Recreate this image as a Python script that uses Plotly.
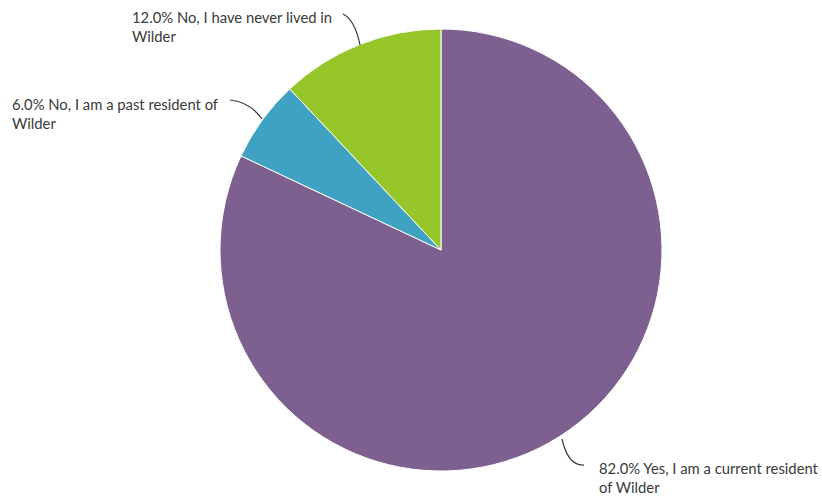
import plotly.graph_objects as go

labels = ["Yes, I am a current resident of Wilder",
          "No, I am a past resident of Wilder",
          "No, I have never lived in Wilder"]
values = [82.0, 6.0, 12.0]
colors = ["#7D608F", "#40A2C3", "#96C62A"]
label_lines = [["Yes, I am a current resident", "of Wilder"],
               ["No, I am a past resident of", "Wilder"],
               ["No, I have never lived in", "Wilder"]]

W, H = 822, 497
cx, cy, r = 441, 250, 221

def px(x):
    return x / W

def py(y):
    return 1 - y / H

fig = go.Figure(go.Pie(
    labels=labels, values=values, sort=False, direction="clockwise", rotation=0,
    marker=dict(colors=colors, line=dict(color="white", width=1)),
    textinfo="none", showlegend=False,
    domain=dict(x=[px(cx - r), px(cx + r)], y=[py(cy + r), py(cy - r)]),
))

# label placement (pixel positions of text start) and leader curves
label_pos = [(597, 477), (10, 113), (130, 26)]
leaders = [
    ((562, 439), (568, 466), (584, 465)),
    ((262, 119), (250, 102), (230, 100)),
    ((360, 45), (355, 20), (343, 14)),
]

for i, (v, lines) in enumerate(zip(values, label_lines)):
    x, y = label_pos[i]
    fig.add_annotation(
        x=px(x), y=py(y), xref="paper", yref="paper", xanchor="left", yanchor="middle",
        align="left", showarrow=False,
        text=f"{v:.1f}% {lines[0]}<br>{lines[1]}",
        font=dict(family="Lato", size=14.8, color="#3a3a3a"),
    )
    (x0, y0), (qx, qy), (x1, y1) = leaders[i]
    fig.add_shape(
        type="path", xref="paper", yref="paper",
        path=f"M {px(x0)},{py(y0)} Q {px(qx)},{py(qy)} {px(x1)},{py(y1)}",
        line=dict(color="#3a3a3a", width=1.2),
    )

fig.update_layout(
    width=W, height=H, margin=dict(l=0, r=0, t=0, b=0),
    paper_bgcolor="white", plot_bgcolor="white",
)
fig.write_html("out.html", config={"displayModeBar": False},
               post_script="document.body.style.margin='0';document.body.style.overflow='hidden';")
